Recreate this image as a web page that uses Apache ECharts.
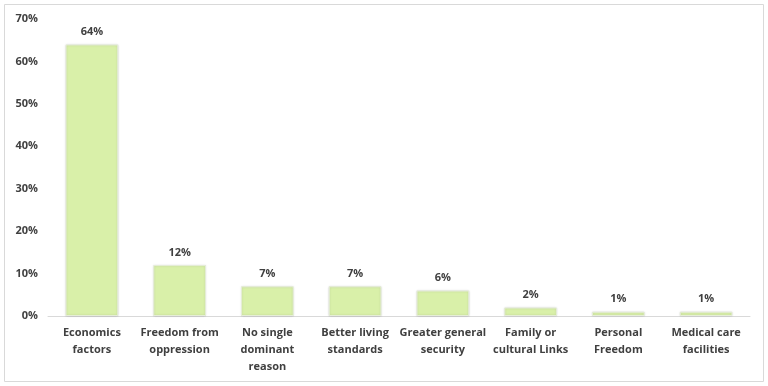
<!DOCTYPE html>
<html><head><meta charset="utf-8">
<script src="https://cdn.jsdelivr.net/npm/echarts@6/dist/echarts.min.js"></script>
<style>html,body{margin:0;padding:0;background:#fff}#c{width:768px;height:386px}</style>
</head><body><div id="c"></div>
<script>
const categories = ["Economics\nfactors","Freedom from\noppression","No single\ndominant\nreason","Better living\nstandards","Greater general\nsecurity","Family or\ncultural Links","Personal\nFreedom","Medical care\nfacilities"];
const values = [64,12,7,7,6,2,1,1];
const yTicks = [0,10,20,30,40,50,60,70];

const font = "Open Sans, Liberation Sans, sans-serif";
const chart = echarts.init(document.getElementById('c'));
chart.setOption({
  animation:false,
  graphic:[{type:'rect',shape:{x:4.5,y:4.5,width:759,height:377},style:{fill:'none',stroke:'#d9d9d9',lineWidth:1},silent:true}],
  grid:{left:48,right:18,top:19,bottom:70},
  xAxis:{type:'category',data:categories,
    axisLine:{lineStyle:{color:'#d9d9d9'}},axisTick:{show:false},
    axisLabel:{interval:0,color:'#404040',fontFamily:font,fontWeight:'bold',fontSize:11,lineHeight:17,margin:8}},
  yAxis:{type:'value',min:yTicks[0],max:yTicks[yTicks.length-1],interval:10,
    splitLine:{show:false},axisLine:{show:false},axisTick:{show:false},
    axisLabel:{formatter:v=>v+'%',color:'#404040',fontFamily:font,fontWeight:'bold',fontSize:11,margin:10}},
  series:[{type:'bar',data:values,barWidth:'60%',
    itemStyle:{color:'#d9f0a9',borderColor:'#e6eed8',borderWidth:1,shadowColor:'rgba(0,0,0,0.15)',shadowBlur:2},
    label:{show:true,position:'top',formatter:p=>p.value+'%',color:'#404040',fontFamily:font,fontWeight:'bold',fontSize:11,distance:7}}]
});
</script></body></html>
